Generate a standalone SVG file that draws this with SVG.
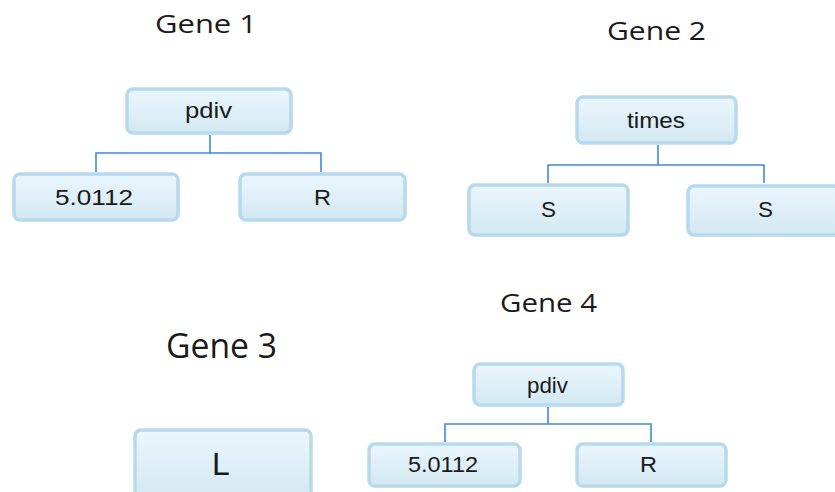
<svg xmlns="http://www.w3.org/2000/svg" width="835" height="492" viewBox="0 0 835 492">
<defs>
<linearGradient id="bg" x1="0" y1="0" x2="0" y2="1">
<stop offset="0" stop-color="#ebf6fd"/>
<stop offset="1" stop-color="#d3e8f1"/>
</linearGradient>
<style>
.box{fill:url(#bg);stroke:#b6d9eb;stroke-width:3.5}
.lbl{font-family:"Liberation Sans",Arial,sans-serif;font-size:22px;fill:#1a1a1a;text-anchor:middle}
.title{font-family:"Open Sans","Liberation Sans",sans-serif;font-size:25px;fill:#1a1a1a}
.con{fill:none;stroke:#3f89dc;stroke-width:1.6}
</style>
</defs>
<rect width="835" height="492" fill="#ffffff"/>
<g id="titles">
<text class="title" x="155" y="33" textLength="102" lengthAdjust="spacingAndGlyphs">Gene 1</text>
<text class="title" x="607" y="40" textLength="99" lengthAdjust="spacingAndGlyphs">Gene 2</text>
<text class="title" x="166" y="358" style="font-size:35px" textLength="111" lengthAdjust="spacingAndGlyphs">Gene 3</text>
<text class="title" x="500" y="312" textLength="97" lengthAdjust="spacingAndGlyphs">Gene 4</text>
</g>
<g id="connectors">
<path class="con" d="M210 135V153M96 172V153H321V172"/>
<path class="con" d="M658 145V165M548 183V165H764V183"/>
<path class="con" d="M548 407V424M445 442V424H651V442"/>
</g>
<g id="g1-pdiv"><rect class="box" x="127" y="89" width="164" height="44" rx="6"/><text class="lbl" x="208.5" y="118" textLength="47" lengthAdjust="spacingAndGlyphs">pdiv</text></g>
<g id="g1-num"><rect class="box" x="14" y="174" width="164" height="46" rx="6"/><text class="lbl" x="94" y="205" textLength="78" lengthAdjust="spacingAndGlyphs">5.0112</text></g>
<g id="g1-r"><rect class="box" x="240" y="174" width="165" height="46" rx="6"/><text class="lbl" x="322.5" y="205" textLength="17" lengthAdjust="spacingAndGlyphs">R</text></g>
<g id="g2-times"><rect class="box" x="577" y="97" width="159" height="46" rx="6"/><text class="lbl" x="656" y="128" textLength="58" lengthAdjust="spacingAndGlyphs">times</text></g>
<g id="g2-s1"><rect class="box" x="469" y="185" width="159" height="50" rx="6"/><text class="lbl" x="548.5" y="217" textLength="15" lengthAdjust="spacingAndGlyphs">S</text></g>
<g id="g2-s2"><rect class="box" x="688" y="186" width="160" height="49" rx="6"/><text class="lbl" x="765.5" y="217" textLength="15" lengthAdjust="spacingAndGlyphs">S</text></g>
<g id="g3-l"><rect class="box" x="135" y="430" width="176" height="70" rx="6"/><text class="lbl" x="221" y="475" style="font-size:32px">L</text></g>
<g id="g4-pdiv"><rect class="box" x="474" y="364" width="149" height="41" rx="6"/><text class="lbl" x="547.5" y="393" textLength="41" lengthAdjust="spacingAndGlyphs">pdiv</text></g>
<g id="g4-num"><rect class="box" x="369" y="444" width="151" height="42" rx="6"/><text class="lbl" x="443" y="472" textLength="70" lengthAdjust="spacingAndGlyphs">5.0112</text></g>
<g id="g4-r"><rect class="box" x="577" y="444" width="149" height="42" rx="6"/><text class="lbl" x="648.5" y="472" textLength="17" lengthAdjust="spacingAndGlyphs">R</text></g>
</svg>
